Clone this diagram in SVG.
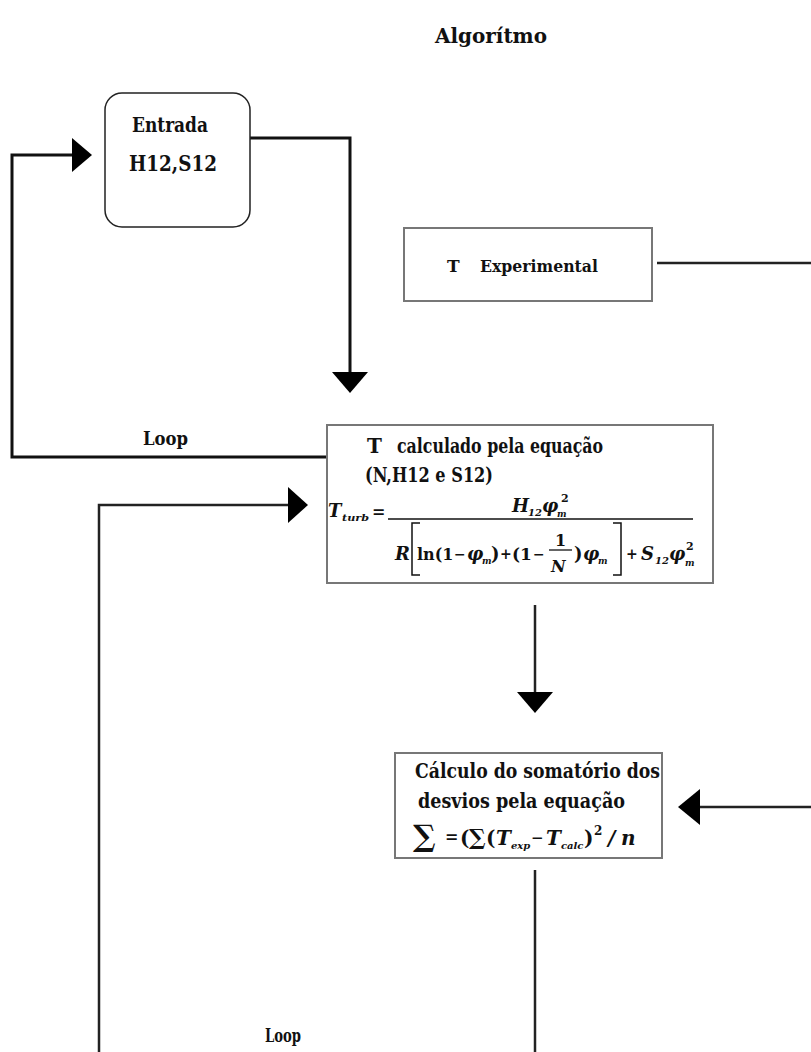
<svg xmlns="http://www.w3.org/2000/svg" width="811" height="1052" viewBox="0 0 811 1052">
<style>
.t{font-family:"DejaVu Serif","Liberation Serif",serif;font-weight:bold;fill:#111;}
.m{font-family:"DejaVu Serif","Liberation Serif",serif;font-weight:bold;font-style:italic;fill:#111;}
.u{font-family:"DejaVu Serif","Liberation Serif",serif;font-weight:bold;fill:#111;}
.box{fill:#fff;stroke:#777;stroke-width:2;}
.c{fill:none;stroke:#111;stroke-width:3;}
.c2{fill:none;stroke:#222;stroke-width:2.5;}
.ah{fill:#000;}
</style>
<rect width="811" height="1052" fill="#fff"/>
<text class="t" x="435" y="43" font-size="21" textLength="112" lengthAdjust="spacingAndGlyphs">Algorítmo</text>

<g id="connectors">
  <polyline class="c" points="250,138 350,138 350,373"/>
  <polygon class="ah" points="332,372 368,372 350,393"/>
  <polyline class="c" points="328,457 12,457 12,155 73,155"/>
  <polygon class="ah" points="72,138 72,172 92,155"/>
  <line class="c2" x1="657" y1="263" x2="811" y2="263"/>
  <line class="c2" x1="535" y1="605" x2="535" y2="693"/>
  <polygon class="ah" points="517,692 553,692 535,713"/>
  <line class="c2" x1="811" y1="807" x2="699" y2="807"/>
  <polygon class="ah" points="700,789 700,825 678,807"/>
  <line class="c2" x1="535" y1="870" x2="535" y2="1052"/>
  <polyline class="c2" points="99,1052 99,505 289,505"/>
  <polygon class="ah" points="288,487 288,523 308,505"/>
</g>
<text class="t" x="265" y="1042" font-size="19" textLength="36" lengthAdjust="spacingAndGlyphs">Loop</text>
<text class="t" x="143" y="445" font-size="19" textLength="45" lengthAdjust="spacingAndGlyphs">Loop</text>

<g id="entrada">
  <rect x="105" y="93" width="145" height="134" rx="17" fill="#fff" stroke="#222" stroke-width="1.5"/>
  <text class="t" x="132" y="132" font-size="21" textLength="76" lengthAdjust="spacingAndGlyphs">Entrada</text>
  <text class="t" x="129" y="171" font-size="22" textLength="88" lengthAdjust="spacingAndGlyphs">H12,S12</text>
</g>

<g id="texp">
  <rect class="box" x="404" y="228" width="248" height="73"/>
  <text class="t" x="447" y="272" font-size="17">T</text>
  <text class="t" x="480" y="272" font-size="17" textLength="118" lengthAdjust="spacingAndGlyphs">Experimental</text>
</g>

<g id="tcalc">
  <rect class="box" x="327" y="425" width="386" height="158"/>
  <text class="t" x="367" y="453" font-size="20">T</text>
  <text class="t" x="397" y="453" font-size="20" textLength="206" lengthAdjust="spacingAndGlyphs">calculado pela equação</text>
  <text class="t" x="365" y="482" font-size="20" textLength="128" lengthAdjust="spacingAndGlyphs">(N,H12 e S12)</text>
  <text class="m" x="328" y="517" font-size="18">T</text>
  <text class="m" x="342" y="521" font-size="10" textLength="27" lengthAdjust="spacingAndGlyphs">turb</text>
  <text class="u" x="372" y="517" font-size="16">=</text>
  <line x1="388" y1="519" x2="693" y2="519" stroke="#111" stroke-width="1.5"/>
  <text class="m" x="512" y="512" font-size="18">H</text>
  <text class="m" x="528" y="516" font-size="10">12</text>
  <text class="m" x="542" y="512" font-size="18">φ</text>
  <text class="u" x="561" y="502" font-size="11">2</text>
  <text class="m" x="557" y="517" font-size="9">m</text>
  <text class="m" x="395" y="560" font-size="18">R</text>
  <path d="M420,523 H412 V575 H420 M613,523 H621 V575 H613" fill="none" stroke="#111" stroke-width="1.5"/>
  <text class="u" x="417" y="560" font-size="16">ln(1</text>
  <text class="u" x="454" y="559" font-size="14">−</text>
  <text class="m" x="467" y="560" font-size="18">φ</text>
  <text class="m" x="482" y="564" font-size="9">m</text>
  <text class="u" x="491" y="560" font-size="18">)</text>
  <text class="u" x="500" y="559" font-size="14">+</text>
  <text class="u" x="512" y="560" font-size="17">(1</text>
  <text class="u" x="533" y="559" font-size="14">−</text>
  <text class="u" x="555" y="546" font-size="16">1</text>
  <line x1="549" y1="550" x2="572" y2="550" stroke="#111" stroke-width="1.3"/>
  <text class="m" x="551" y="572" font-size="16">N</text>
  <text class="u" x="574" y="560" font-size="18">)</text>
  <text class="m" x="583" y="560" font-size="18">φ</text>
  <text class="m" x="598" y="564" font-size="9">m</text>
  <text class="u" x="626" y="559" font-size="14">+</text>
  <text class="m" x="641" y="560" font-size="18">S</text>
  <text class="m" x="655" y="564" font-size="10">12</text>
  <text class="m" x="669" y="560" font-size="18">φ</text>
  <text class="u" x="686" y="550" font-size="11">2</text>
  <text class="m" x="685" y="566" font-size="9">m</text>
</g>

<g id="calculo">
  <rect class="box" x="395" y="753" width="267" height="105"/>
  <text class="t" x="415" y="778" font-size="20" textLength="245" lengthAdjust="spacingAndGlyphs">Cálculo do somatório dos</text>
  <text class="t" x="418" y="808" font-size="20" textLength="207" lengthAdjust="spacingAndGlyphs">desvios pela equação</text>
  <text class="u" x="413" y="846" font-size="30">∑</text>
  <text class="u" x="445" y="842" font-size="16">=</text>
  <text class="u" x="460" y="845" font-size="20">(</text>
  <text class="u" x="469" y="845" font-size="22">∑</text>
  <text class="u" x="486" y="845" font-size="20">(</text>
  <text class="m" x="496" y="845" font-size="20">T</text>
  <text class="m" x="511" y="849" font-size="10">exp</text>
  <text class="u" x="531" y="843" font-size="15">−</text>
  <text class="m" x="546" y="845" font-size="20">T</text>
  <text class="m" x="561" y="849" font-size="10">calc</text>
  <text class="u" x="584" y="845" font-size="20">)</text>
  <text class="u" x="594" y="835" font-size="12">2</text>
  <text class="m" x="608" y="845" font-size="20">/</text>
  <text class="m" x="621" y="845" font-size="20">n</text>
</g>
</svg>
